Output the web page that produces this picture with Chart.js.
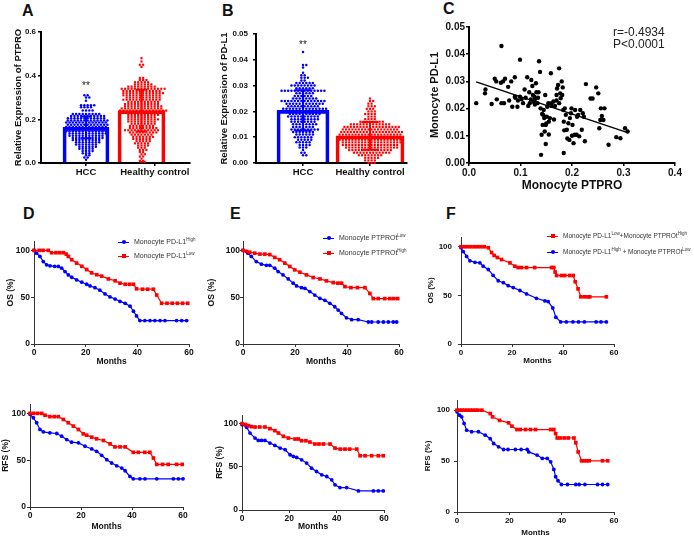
<!DOCTYPE html>
<html>
<head>
<meta charset="utf-8">
<script src="https://cdn.jsdelivr.net/npm/chart.js@4.4.1/dist/chart.umd.min.js"></script>
<style>
  body { margin: 0; background: #fff; width: 694px; height: 536px; overflow: hidden; position: relative;
         font-family: 'Liberation Sans', Arial, sans-serif; }
  canvas { position: absolute; }
  .t { position: absolute; white-space: nowrap; color: #111; }
  .letter { font-weight: bold; font-size: 16px; line-height: 16px; }
  .star { font-size: 10px; line-height: 10px; width: 20px; text-align: center; color: #222; }
  .stat { font-size: 12px; line-height: 12px; color: #222; }
  .lg { font-size: 7px; line-height: 10px; color: #333; }
  .lg.small { font-size: 6.5px; }
  .lg sup { font-size: 4.5px; vertical-align: 3px; line-height: 0; }
  .sw { display: inline-block; position: relative; width: 11px; height: 1px; vertical-align: middle; margin-right: 5px; }
  .sw i { position: absolute; left: 3.5px; top: -1.5px; width: 4px; height: 4px; border-radius: 50%; }
  .sw.sq i { border-radius: 0; }
</style>
</head>
<body>
<canvas id="cA"></canvas>
<canvas id="cB"></canvas>
<canvas id="cC"></canvas>
<canvas id="cD1"></canvas>
<canvas id="cD2"></canvas>
<canvas id="cE1"></canvas>
<canvas id="cE2"></canvas>
<canvas id="cF1"></canvas>
<canvas id="cF2"></canvas>

<div class="t letter" style="left:22px;top:3px">A</div>
<div class="t letter" style="left:222px;top:3px">B</div>
<div class="t letter" style="left:443px;top:1px">C</div>
<div class="t letter" style="left:23px;top:206px">D</div>
<div class="t letter" style="left:230px;top:206px">E</div>
<div class="t letter" style="left:446px;top:206px">F</div>

<div class="t star" style="left:76px;top:81px">**</div>
<div class="t star" style="left:293px;top:40px">**</div>

<div class="t stat" style="left:613px;top:26px">r=-0.4934</div>
<div class="t stat" style="left:613px;top:38px">P&lt;0.0001</div>

<div class="t lg" style="left:118px;top:237px"><span class="sw" style="background:#0000ff"><i style="background:#0000ff"></i></span>Monocyte PD-L1<sup>High</sup></div>
<div class="t lg" style="left:118px;top:251px"><span class="sw sq" style="background:#ff0000"><i style="background:#ff0000"></i></span>Monocyte PD-L1<sup>Low</sup></div>
<div class="t lg" style="left:323px;top:233px"><span class="sw" style="background:#0000ff"><i style="background:#0000ff"></i></span>Monocyte PTPROt<sup>Low</sup></div>
<div class="t lg" style="left:323px;top:248px"><span class="sw sq" style="background:#ff0000"><i style="background:#ff0000"></i></span>Monocyte PTPROt<sup>High</sup></div>
<div class="t lg small" style="left:547px;top:231px"><span class="sw sq" style="background:#ff0000"><i style="background:#ff0000"></i></span>Monocyte PD-L1<sup>Low</sup>+Monocyte PTPROt<sup>High</sup></div>
<div class="t lg small" style="left:547px;top:247px"><span class="sw" style="background:#0000ff"><i style="background:#0000ff"></i></span>Monocyte PD-L1<sup>High</sup> + Monocyte PTPROt<sup>Low</sup></div>

<script>
// ---- data ----
// A: PTPRO relative expression, [value, number of samples at that value]
const aGroups = ["HCC", "Healthy control"];
const aHcc = [[0.31,2],[0.30,2],[0.285,1],[0.265,5],[0.255,4],[0.24,4],[0.225,9],[0.215,11],[0.205,12],
  [0.195,13],[0.185,13],[0.175,13],[0.165,13],[0.155,13],[0.145,13],[0.135,12],[0.125,11],[0.115,10],
  [0.105,9],[0.095,8],[0.085,7],[0.075,6],[0.065,5],[0.055,4],[0.045,3],[0.035,2],[0.025,2],[0.015,1]];
const aHealthy = [[0.48,1],[0.465,1],[0.45,2],[0.44,1],[0.39,2],[0.38,3],[0.37,5],[0.36,6],[0.35,9],
  [0.34,14],[0.33,12],[0.32,13],[0.31,12],[0.30,11],[0.29,12],[0.28,10],[0.27,11],[0.26,12],[0.25,13],
  [0.24,15],[0.23,12],[0.22,10],[0.21,9],[0.20,10],[0.19,9],[0.18,8],[0.17,8],[0.16,9],[0.15,11],
  [0.14,9],[0.13,7],[0.12,7],[0.11,6],[0.10,5],[0.09,5],[0.08,4],[0.07,3],[0.06,3],[0.05,2],[0.04,2],
  [0.03,2],[0.02,1],[0.01,2],[0.005,2]];
const aMeans = [0.163, 0.24];
const aSds = [0.05, 0.096];

// B: PD-L1 relative expression
const bHcc = [[0.043,1],[0.038,2],[0.037,1],[0.035,1],[0.034,2],[0.033,3],[0.032,2],[0.031,6],[0.030,8],
  [0.029,6],[0.028,14],[0.027,6],[0.026,6],[0.025,8],[0.024,14],[0.023,12],[0.022,10],[0.021,14],
  [0.020,12],[0.019,10],[0.018,10],[0.017,9],[0.016,8],[0.015,8],[0.014,7],[0.013,9],[0.012,7],
  [0.011,6],[0.010,6],[0.009,5],[0.008,5],[0.007,4],[0.006,3],[0.005,1],[0.004,2],[0.003,2]];
const bHealthy = [[0.025,1],[0.024,2],[0.023,2],[0.022,3],[0.021,3],[0.020,3],[0.019,4],[0.018,3],
  [0.017,4],[0.016,8],[0.015,13],[0.014,18],[0.013,18],[0.012,20],[0.011,20],[0.010,20],[0.009,20],
  [0.008,19],[0.007,18],[0.006,17],[0.005,14],[0.004,12],[0.003,8],[0.002,5],[0.001,4],[0.0,3]];
const bMeans = [0.0204, 0.0105];
const bSds = [0.0078, 0.0054];

// C: monocyte PTPRO (x) vs monocyte PD-L1 (y)
const cPoints = [[0.014,0.022],[0.031,0.0256],[0.032,0.027],[0.044,0.0217],[0.05,0.031],[0.053,0.030],
  [0.054,0.0234],[0.063,0.043],[0.062,0.0295],[0.066,0.030],[0.063,0.022],[0.068,0.022],[0.07,0.031],
  [0.076,0.028],[0.078,0.023],[0.082,0.030],[0.084,0.0207],[0.089,0.0315],[0.089,0.0244],[0.09,0.024],
  [0.094,0.0207],[0.095,0.023],[0.099,0.038],[0.099,0.0244],[0.102,0.0234],[0.105,0.022],[0.108,0.027],
  [0.110,0.024],[0.113,0.0315],[0.115,0.021],[0.117,0.026],[0.118,0.022],[0.120,0.0234],[0.121,0.0305],
  [0.123,0.0283],[0.124,0.025],[0.125,0.0225],[0.127,0.0244],[0.128,0.0234],[0.128,0.0215],[0.130,0.0293],
  [0.131,0.026],[0.133,0.022],[0.134,0.024],[0.135,0.026],[0.136,0.0374],[0.138,0.0335],[0.139,0.0201],
  [0.140,0.003],[0.141,0.0104],[0.142,0.018],[0.143,0.014],[0.144,0.0177],[0.145,0.0195],[0.146,0.0165],
  [0.147,0.0116],[0.148,0.025],[0.149,0.007],[0.149,0.014],[0.150,0.0145],[0.151,0.017],[0.152,0.0207],
  [0.154,0.022],[0.155,0.0152],[0.155,0.0105],[0.157,0.0165],[0.159,0.033],[0.160,0.022],[0.160,0.021],
  [0.164,0.0226],[0.165,0.016],[0.167,0.021],[0.170,0.023],[0.170,0.025],[0.171,0.0274],[0.173,0.0287],
  [0.175,0.0348],[0.175,0.022],[0.177,0.0256],[0.178,0.0238],[0.180,0.030],[0.181,0.025],[0.182,0.0278],
  [0.183,0.0195],[0.184,0.0152],[0.184,0.0037],[0.185,0.012],[0.186,0.0201],[0.188,0.0177],[0.190,0.0122],
  [0.191,0.009],[0.193,0.0146],[0.195,0.0085],[0.196,0.0165],[0.198,0.0183],[0.199,0.0201],[0.200,0.010],
  [0.201,0.014],[0.203,0.0073],[0.205,0.0104],[0.206,0.0195],[0.209,0.0104],[0.210,0.017],[0.212,0.0177],
  [0.214,0.0098],[0.216,0.0195],[0.219,0.0122],[0.221,0.0183],[0.223,0.017],[0.225,0.008],[0.227,0.029],
  [0.236,0.0237],[0.240,0.0237],[0.247,0.0278],[0.251,0.0256],[0.253,0.0128],[0.255,0.0158],[0.256,0.0201],
  [0.258,0.0173],[0.261,0.0158],[0.263,0.0201],[0.271,0.0067],[0.286,0.0095],[0.294,0.0091],[0.303,0.0128],
  [0.308,0.0116]];
const cFitSlope = -0.0634;
const cFitIntercept = 0.0307;
const cFitRange = [0.014, 0.308];

// D-F: survival curves, [month, percent]
const dOsHigh = [[0,100],[1,97],[2.3,93.5],[3.6,88],[4.9,84.6],[6.2,83.5],[8,83],[9.4,82.8],[10.7,81],[12,77.4],
  [13.3,73.8],[14.6,71.3],[16.5,68.5],[18.5,66],[20.4,63.8],[21.7,62],[23.6,60.2],[25.5,57.5],[27.5,53.5],
  [29.4,50.3],[31.4,48],[33.3,45.5],[35.3,43.4],[37.2,40.4],[38.5,35],[39.7,30],[41,25],[42.9,25],[44.9,25],
  [46.8,25],[48.8,25],[50.7,25],[55.2,25],[57.2,25],[59.1,25]];
const dOsLow = [[0,100],[2,100],[3.5,100],[5.5,100],[6.8,97.5],[8.5,97.5],[10,97.5],[11.4,97.5],[12.5,96],
  [13.3,93.5],[14.6,90],[16.5,86.4],[18.5,83],[20.4,79.5],[22.3,76],[24.3,74],[26.2,72.5],[28.8,69.5],
  [31.4,67.5],[33.3,65],[35.3,63.8],[37,63.8],[38.5,63.8],[39.7,59],[42,58.5],[44,58.5],[46.2,58.5],
  [47.5,52.3],[49.4,43.5],[51.5,43.5],[53.5,43.5],[55.5,43.5],[57.5,43.5],[59.5,43.5]];
const dRfsHigh = [[0,99],[1.3,95.3],[2.6,90],[3.9,82.8],[5.2,80.3],[7.8,79.2],[10.5,78.5],[12.4,75.6],[14.4,72],
  [16.3,69.2],[19,68.5],[21.6,64.9],[24.2,62],[26.1,59.5],[28.1,55.2],[30.1,50.5],[32,47],[34,44],[36,41.6],
  [37.3,38.7],[39.2,32.6],[40.5,30.1],[43.1,30.1],[45.1,30.1],[49.7,30.1],[56.2,30.1],[58.2,30.1],[60,30.1]];
const dRfsLow = [[0,100],[1.5,100],[3,100],[4.6,100],[5.9,98],[7.8,96.5],[9.5,96.5],[11.1,96.5],[13.1,93.5],
  [15,90],[17,86.4],[19,82.8],[20.9,78.1],[22.2,76.7],[24.2,74.6],[26.1,72.8],[28.8,71],[31.4,67.4],
  [33.3,64.2],[35.3,64.2],[37.3,64.2],[40.5,58.4],[42.5,58.4],[45,58.4],[47,58.4],[48.4,52.3],[49.7,45.5],
  [52,45.5],[54.2,45.5],[57.5,45.5],[59.7,45.5]];
const eOsLow = [[0,100],[1.9,97],[3.2,93.5],[5.1,88],[7.1,85.3],[9,84],[10.3,84],[12.2,81],[13.5,77.4],
  [15.4,73.8],[17.4,69.5],[19.3,65],[20.6,62],[22.5,60.2],[23.8,59.5],[25.7,56],[27.6,52.3],[29.6,48.7],
  [31.5,46.6],[33.4,43.4],[35.3,39.8],[36.6,36.2],[37.9,32.6],[39.8,28],[41.8,26],[44.3,26],[48.2,23.5],
  [49.5,23.5],[52,23.5],[54,23.5],[55.9,23.5],[57.8,23.5],[59.1,23.5]];
const eOsHigh = [[0,100],[1.3,99],[2.6,98],[4.5,97],[6.5,96],[8.4,96],[10.3,95.5],[12.2,92.5],[14.1,90],
  [16.1,86.4],[18,82.8],[19.9,79.2],[21.9,76.7],[24.4,73.8],[27,71],[29.6,69.5],[32.1,67.4],[34.7,65.6],
  [36.5,65],[37.9,65],[39.2,61.3],[41.5,60.2],[44,60.2],[46.9,60.2],[48.8,54],[50.1,48.5],[52,48.5],
  [54.5,48.5],[56.5,48.5],[58,48.5],[59.5,48.5]];
const eRfsLow = [[0,98.8],[2,95.7],[3.4,89.1],[5.5,83.3],[6.9,80.6],[8.3,80.6],[9.7,80.6],[11.8,77.5],
  [13.9,74.8],[16.1,71.7],[18.2,69.8],[20.3,64],[21.7,62],[23.1,60.9],[25.2,58.1],[27.3,54.3],[29.4,48.4],
  [31.5,44.6],[33.7,40.7],[35.8,38.8],[37.9,34.9],[39.3,29.1],[41.4,26],[44.2,26],[49.2,22.1],[55.5,22.1],
  [57.6,22.1],[59.7,22.1]];
const eRfsHigh = [[0,100],[1.5,99],[2.7,97.7],[4,96.5],[5.5,96.1],[7.5,96.1],[9.7,96.1],[11.8,94.2],
  [13.9,91.9],[15.4,89.1],[17.5,85.3],[19.6,83.3],[22.4,82.2],[23.8,82.2],[25.2,80.2],[27,80.2],[28.7,78.7],
  [30.8,76.4],[32.5,76.4],[34.4,76.4],[37.2,76.4],[39.3,71.7],[41.5,70.5],[43.5,70.5],[45.5,70.5],
  [48.5,70.5],[49.9,62.8],[52,62.8],[54.8,62.8],[57.6,62.8],[59.7,62.8]];
const fOsGood = [[0,100],[1.3,100],[2.6,100],[3.9,100],[5.2,100],[6.5,100],[7.8,100],[9.1,100],[10.7,99],
  [12,94],[13,91],[14.3,89],[15.9,86.8],[19.2,83.4],[21.1,80],[22.4,78.6],[23.7,78.6],[25.7,78.6],
  [28.9,78.6],[35.5,78.6],[36.4,78.6],[36.9,74],[37.5,70.4],[39.4,70.4],[40.7,70.4],[42.6,70.4],[44,70.4],
  [44.8,64],[45.9,56.7],[47,48.5],[48.5,48.5],[49.8,48.5],[50.5,48.5],[57,48.5]];
const fOsPoor = [[0,99],[0.9,95],[2.2,90],[3.5,85.5],[5.5,84],[7.4,83.5],[8.7,80],[10.7,76.6],[12.6,70.5],
  [14.6,65],[16.6,63],[18.5,60],[20.5,58],[23.1,55],[25.7,51.5],[29.6,47],[32.9,44.3],[34.2,43.6],[36,37],
  [37.2,27.5],[39.1,22.7],[41.3,22.7],[43.9,22.7],[46.1,22.7],[48.4,22.7],[53,22.7],[54.9,22.7],[57,22.7]];
const fRfsGood = [[0,100],[1,100],[2,100],[3,100],[4,100],[5,100],[6,100],[7,100],[8,100],[9.5,100],
  [12.7,96.7],[13.6,93.5],[16.3,90],[19.7,87.6],[21,84.3],[22.9,81],[24.2,81],[26.2,81],[28.1,81],[30,81],
  [35.8,81],[37,81],[37.7,77],[38.3,72.7],[39.5,72.7],[41,72.7],[42.5,72.7],[44.7,72.7],[45.4,68],
  [46.3,59],[47.6,50.3],[48.5,50.3],[49.5,50.3],[50.5,50.3],[55.6,50.3],[57.6,50.3]];
const fRfsPoor = [[0,98.4],[1,95],[1.8,93.5],[2.7,87],[3.7,80.4],[5.6,78.8],[8.2,78.8],[10.8,75.5],[12.7,72],
  [14,67.3],[15.9,64],[17.8,61.4],[19.5,61.4],[22.3,61.4],[24.5,61.4],[26.8,61.4],[27.4,59],[30.6,55.9],
  [32.6,52.6],[34.5,52.6],[35.8,49.3],[37,41.8],[37.7,34.6],[38.6,30.7],[39.9,27],[42.2,27],[45.4,27],
  [46.7,27],[48.9,27],[53.7,27],[55.6,27],[57.6,27]];

const BLUE = '#0000ff';
const RED = '#ff0000';

Chart.defaults.font.family = "'Liberation Sans', Arial, sans-serif";
Chart.defaults.color = '#111';

// mean +/- SD whiskers drawn on top of the dots
Chart.register({
  id: 'errorBars',
  afterDatasetsDraw(chart, args, o) {
    if (!o.means) return;
    const { ctx, scales: { x, y } } = chart;
    ctx.save();
    ctx.lineWidth = o.width;
    o.means.forEach((m, i) => {
      const px = x.getPixelForValue(o.pos[i]);
      const top = y.getPixelForValue(m + o.sds[i]);
      const bot = y.getPixelForValue(m - o.sds[i]);
      ctx.strokeStyle = o.colors[i];
      ctx.beginPath();
      ctx.moveTo(px, top); ctx.lineTo(px, bot);
      ctx.moveTo(px - o.cap / 2, top); ctx.lineTo(px + o.cap / 2, top);
      ctx.moveTo(px - o.cap / 2, bot); ctx.lineTo(px + o.cap / 2, bot);
      ctx.stroke();
    });
    ctx.restore();
  }
});

// canvas placed so that the plot area lands on b.l/b.t/b.r/b.b
function place(id, b) {
  const c = document.getElementById(id);
  const w = b.r - b.l + b.yW + b.padR;
  const h = b.b - b.t + b.padT + b.xH;
  c.width = w; c.height = h;
  c.style.left = (b.l - b.yW) + 'px';
  c.style.top = (b.t - b.padT) + 'px';
  c.style.width = w + 'px';
  c.style.height = h + 'px';
  return c;
}

function axis(o) {
  return {
    type: 'linear', min: o.min, max: o.max, offset: false,
    ticks: { stepSize: o.step, font: { size: o.fs, weight: 'bold' }, color: '#111', padding: o.tp,
             callback: o.fmt, maxRotation: 0, autoSkip: false },
    grid: { display: true, drawOnChartArea: false, drawTicks: true, tickLength: o.tl,
            color: o.lc, lineWidth: o.lw, offset: false },
    border: { display: true, color: o.lc, width: o.bw },
    title: o.title ? { display: true, text: o.title, font: { size: o.ts, weight: 'bold' }, color: '#111',
                       padding: o.tpad } : { display: false },
    afterBuildTicks: o.at ? s => { s.ticks = o.at.map(v => ({ value: v })); } : undefined,
    afterFit: o.fix
  };
}
const fixY = w => s => { s.width = w; s.paddingTop = 0; s.paddingBottom = 0; };
const fixX = h => s => { s.height = h; s.paddingLeft = 0; s.paddingRight = 0; };

function baseOpts(b) {
  return {
    responsive: false, animation: false, events: [], devicePixelRatio: 1,
    layout: { padding: { top: b.padT, right: b.padR, left: 0, bottom: 0 } },
    plugins: { legend: { display: false }, tooltip: { enabled: false } }
  };
}

// beeswarm layout of dots around a group centre (dot gap in px)
function swarm(rows, center, unitPx, gap) {
  const pts = [];
  rows.forEach(([v, n], i) => {
    const shift = (i % 2 && n > 1) ? gap / 2 : 0;
    for (let j = 0; j < n; j++) {
      pts.push({ x: center + ((j - (n - 1) / 2) * gap + shift) / unitPx, y: v });
    }
  });
  return pts;
}

function dotPlot(id, b, o) {
  const c = place(id, b);
  const unit = (b.r - b.l) / (o.xMax - o.xMin);
  const opts = baseOpts(b);
  opts.plugins.errorBars = { means: o.means, sds: o.sds, pos: [1, 2], colors: [BLUE, RED], cap: o.cap, width: 2 };
  opts.scales = {
    x: axis({ min: o.xMin, max: o.xMax, at: o.tickAt, fmt: (v, i) => aGroups[i], fs: 9.5, tp: 1, tl: 3,
              lc: '#000', lw: 1.5, bw: 2, fix: fixX(b.xH) }),
    y: axis({ min: 0, max: o.yMax, step: o.yStep, fmt: v => v.toFixed(o.dec), fs: 8, tp: o.ytp, tl: 3,
              lc: '#000', lw: 1.5, bw: 2, title: o.title, ts: 9.5, tpad: { top: o.titlePad, bottom: 0 },
              fix: fixY(b.yW) })
  };
  return new Chart(c, {
    type: 'bar',
    data: {
      datasets: [
        { type: 'bar', data: [{ x: 1, y: o.means[0] }], barThickness: o.barW[0], borderColor: BLUE, borderWidth: 3,
          backgroundColor: 'rgba(0,0,0,0)', grouped: false, order: 3 },
        { type: 'bar', data: [{ x: 2, y: o.means[1] }], barThickness: o.barW[1], borderColor: RED, borderWidth: 3,
          backgroundColor: 'rgba(0,0,0,0)', grouped: false, order: 3 },
        { type: 'scatter', data: swarm(o.hcc, 1, unit, o.gap[0]), pointRadius: 1.25, pointStyle: 'circle',
          backgroundColor: BLUE, borderWidth: 0, pointBorderWidth: 0, order: 1, clip: false },
        { type: 'scatter', data: swarm(o.healthy, 2, unit, o.gap[1]), pointRadius: 1.5, pointStyle: 'rect',
          backgroundColor: RED, borderWidth: 0, pointBorderWidth: 0, order: 1, clip: false }
      ]
    },
    options: opts
  });
}

// A
dotPlot('cA', { l: 41, t: 32, r: 190, b: 163, yW: 41, padT: 8, padR: 8, xH: 22 }, {
  xMin: 0.189, xMax: 2.874, tickAt: [1, 2.24], yMax: 0.6, yStep: 0.2, dec: 1, ytp: 2,
  title: 'Relative Expression of PTPRO', titlePad: 13, means: aMeans, sds: aSds, cap: 11,
  barW: [46, 47], gap: [3.3, 3.3], hcc: aHcc, healthy: aHealthy
});
// B
dotPlot('cB', { l: 256, t: 34, r: 407, b: 163, yW: 37, padT: 8, padR: 8, xH: 22 }, {
  xMin: 0.2985, xMax: 2.5522, tickAt: [1, 2], yMax: 0.05, yStep: 0.01, dec: 2, ytp: 5,
  title: 'Relative Expression of PD-L1', titlePad: 0, means: bMeans, sds: bSds, cap: 17,
  barW: [52, 68], gap: [3.3, 3.2], hcc: bHcc, healthy: bHealthy
});

// C
(function () {
  const b = { l: 469, t: 27, r: 675, b: 163, yW: 41, padT: 8, padR: 12, xH: 32 };
  const c = place('cC', b);
  const opts = baseOpts(b);
  opts.scales = {
    x: axis({ min: 0, max: 0.4, step: 0.1, fmt: v => v.toFixed(1), fs: 10, tp: 1, tl: 3, lc: '#000', lw: 1.5, bw: 2,
              title: 'Monocyte PTPRO', ts: 12, tpad: { top: 0, bottom: 2 }, fix: fixX(b.xH) }),
    y: axis({ min: 0, max: 0.05, step: 0.01, fmt: v => v.toFixed(2), fs: 10, tp: 1, tl: 3, lc: '#000', lw: 1.5, bw: 2,
              title: 'Monocyte PD-L1', ts: 11, tpad: { top: 0, bottom: 0 }, fix: fixY(b.yW) })
  };
  new Chart(c, {
    type: 'scatter',
    data: {
      datasets: [
        { data: cPoints.map(p => ({ x: p[0], y: p[1] })), pointRadius: 2.2, backgroundColor: '#000',
          pointBorderWidth: 0, clip: false },
        { data: cFitRange.map(x => ({ x: x, y: cFitIntercept + cFitSlope * x })), showLine: true,
          borderColor: '#000', borderWidth: 1.5, pointRadius: 0 }
      ]
    },
    options: opts
  });
})();

// Kaplan-Meier panels
function km(id, b, sets, o) {
  const c = place(id, b);
  const opts = baseOpts(b);
  opts.scales = {
    x: axis({ min: 0, max: 60, step: 20, fmt: v => v, fs: o.fs, tp: 1, tl: 3, lc: '#333', lw: 1, bw: 1,
              title: 'Months', ts: o.ts, tpad: { top: 0, bottom: o.xtPad }, fix: fixX(b.xH) }),
    y: axis({ min: 0, max: 110, at: [0, 50, 100], fmt: v => v, fs: o.fs, tp: o.ytp, tl: 3, lc: '#333', lw: 1, bw: 1,
              title: o.title, ts: o.ts, tpad: { top: o.ytPad, bottom: 0 }, fix: fixY(b.yW) })
  };
  new Chart(c, {
    type: 'scatter',
    data: {
      datasets: sets.map(s => ({
        data: s.pts.map(p => ({ x: p[0], y: p[1] })),
        showLine: true, borderColor: s.color, backgroundColor: s.color, borderWidth: 1.2,
        pointStyle: s.shape, pointRadius: s.shape === 'rect' ? 2.6 : 1.9, pointBorderWidth: 0, clip: false
      }))
    },
    options: opts
  });
}

km('cD1', { l: 34, t: 241, r: 189, b: 344, yW: 34, padT: 6, padR: 6, xH: 26 },
  [{ pts: dOsLow, color: RED, shape: 'rect' }, { pts: dOsHigh, color: BLUE, shape: 'circle' }],
  { title: 'OS (%)', fs: 8.5, ts: 8.5, ytp: 1, ytPad: 5.4, xtPad: 2.9 });
km('cD2', { l: 30, t: 404, r: 183, b: 507, yW: 30, padT: 6, padR: 6, xH: 27 },
  [{ pts: dRfsLow, color: RED, shape: 'rect' }, { pts: dRfsHigh, color: BLUE, shape: 'circle' }],
  { title: 'RFS (%)', fs: 8.5, ts: 8.5, ytp: 1, ytPad: 0.9, xtPad: 1.9 });
km('cE1', { l: 243, t: 241, r: 399, b: 344, yW: 38, padT: 6, padR: 6, xH: 26 },
  [{ pts: eOsHigh, color: RED, shape: 'rect' }, { pts: eOsLow, color: BLUE, shape: 'circle' }],
  { title: 'OS (%)', fs: 8.5, ts: 8.5, ytp: 0, ytPad: 1.9, xtPad: 2.9 });
km('cE2', { l: 242, t: 415, r: 384, b: 510, yW: 28, padT: 6, padR: 6, xH: 24 },
  [{ pts: eRfsHigh, color: RED, shape: 'rect' }, { pts: eRfsLow, color: BLUE, shape: 'circle' }],
  { title: 'RFS (%)', fs: 8.5, ts: 8.5, ytp: 1, ytPad: 0.9, xtPad: 1.9 });
km('cF1', { l: 461, t: 237, r: 614, b: 344, yW: 36, padT: 6, padR: 8, xH: 26 },
  [{ pts: fOsGood, color: RED, shape: 'rect' }, { pts: fOsPoor, color: BLUE, shape: 'circle' }],
  { title: 'OS (%)', fs: 8, ts: 8, ytp: 6, ytPad: 1.2, xtPad: 4.2 });
km('cF2', { l: 457, t: 400, r: 614, b: 512, yW: 34, padT: 6, padR: 8, xH: 26 },
  [{ pts: fRfsGood, color: RED, shape: 'rect' }, { pts: fRfsPoor, color: BLUE, shape: 'circle' }],
  { title: 'RFS (%)', fs: 8, ts: 8, ytp: 4, ytPad: 0.2, xtPad: 0.2 });
</script>
</body>
</html>
